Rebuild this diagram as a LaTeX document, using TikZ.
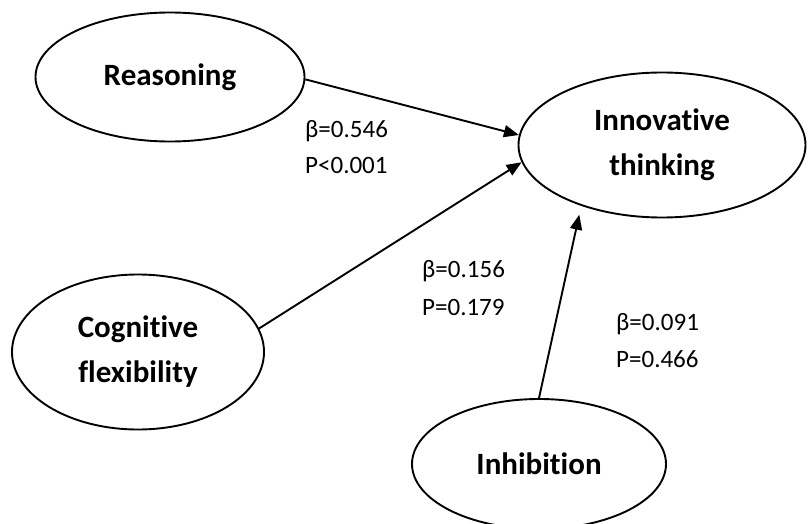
\documentclass[tikz,border=0pt]{standalone}
\usepackage{fontspec}
\setmainfont{Carlito}[Ligatures={NoCommon}]
\usetikzlibrary{shapes.geometric,arrows.meta}
\begin{document}
\begin{tikzpicture}[x=1pt,y=-1pt,
  latent/.style={draw, ellipse, line width=1.9pt, inner sep=0pt, align=center,
    font=\fontsize{31}{45}\selectfont\bfseries},
  coef/.style={anchor=base west, inner sep=0pt, font=\fontsize{25}{30}\selectfont},
  path/.style={line width=1.9pt, -{Triangle[length=15pt,width=12pt]}}]
\useasboundingbox (0,0) rectangle (808,524);
\node[latent, minimum width=269pt, minimum height=129pt] (r) at (170,77) {Reasoning};
\node[latent, minimum width=287pt, minimum height=145pt] (it) at (662,145) {Innovative\\thinking};
\node[latent, minimum width=252pt, minimum height=155pt] (cf) at (138,352) {Cognitive\\flexibility};
\node[latent, minimum width=254pt, minimum height=130pt] (inh) at (539,464) {Inhibition};
\draw[path] (r.-1) -- (it.176);
\draw[path] (cf.11) -- (it.187);
\draw[path, shorten >=9pt] (inh.north) -- (it.217.6);
\node[coef] (b1) at (305,137) {β=0.546};
\node[coef] (p1) at (305,173) {P<0.001};
\node[coef] (b2) at (422,277) {β=0.156};
\node[coef] (p2) at (422,315) {P=0.179};
\node[coef] (b3) at (616,330) {β=0.091};
\node[coef] (p3) at (616,367) {P=0.466};
\end{tikzpicture}
\end{document}
